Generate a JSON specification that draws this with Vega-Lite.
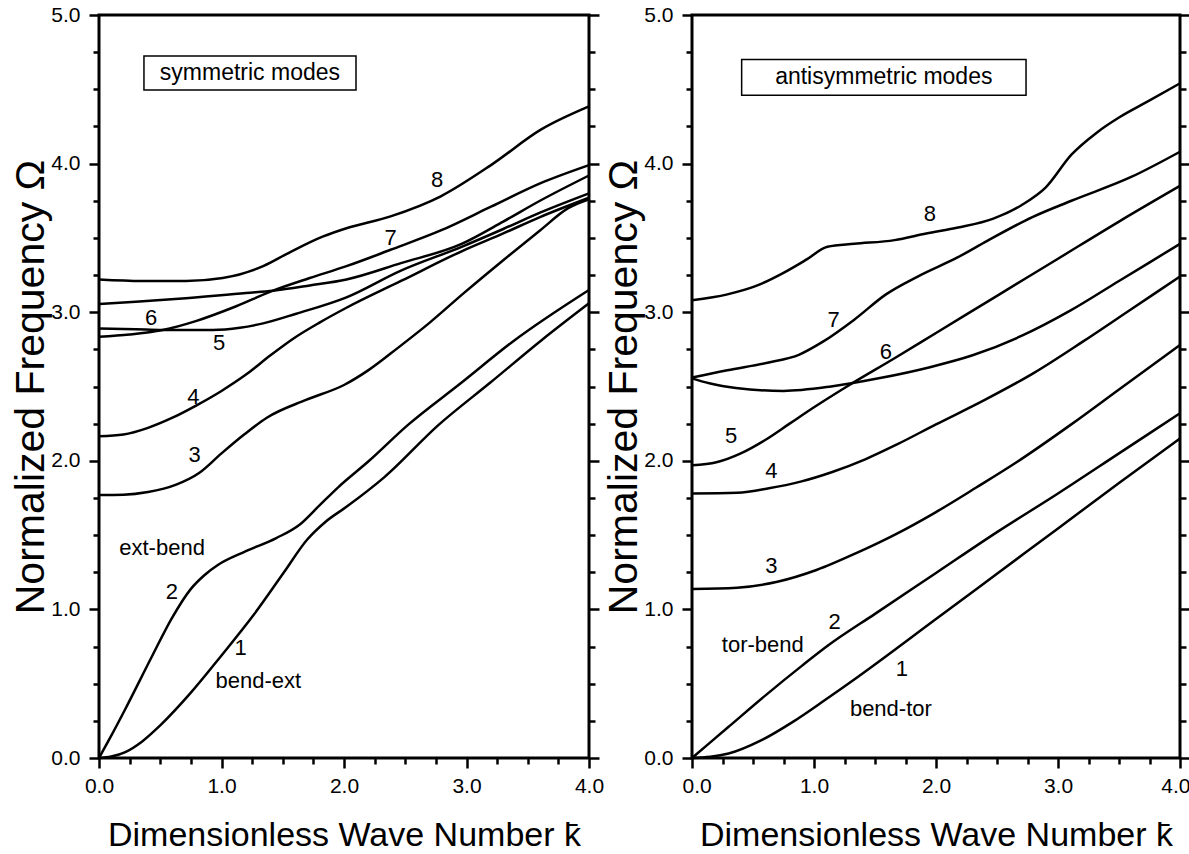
{
  "$schema": "https://vega.github.io/schema/vega-lite/v6.json",
  "padding": {"left": 9, "top": 2, "right": 0, "bottom": 0},
  "spacing": -4,
  "config": {
    "font": "Liberation Sans",
    "view": {"stroke": "black", "strokeWidth": 3},
    "axis": {"domain": false, "grid": false, "ticks": true, "tickColor": "black", "tickOpacity": 1, "tickWidth": 2.5, "labelColor": "black", "titleColor": "black", "labelFont": "Liberation Sans", "titleFont": "Liberation Sans", "titleFontWeight": "normal", "labelFontSize": 21, "labelFlush": false, "labelOverlap": false, "zindex": 1}
  },
  "datasets": {
    "sym": [
      {"c":"1","k":0,"w":0},{"c":"1","k":0.1,"w":0.01},{"c":"1","k":0.215,"w":0.04},{"c":"1","k":0.35,"w":0.11},{"c":"1","k":0.5,"w":0.22},{"c":"1","k":0.75,"w":0.44},{"c":"1","k":1.0,"w":0.69},{"c":"1","k":1.26,"w":0.96},{"c":"1","k":1.51,"w":1.25},{"c":"1","k":1.70,"w":1.47},{"c":"1","k":1.85,"w":1.59},{"c":"1","k":2.02,"w":1.69},{"c":"1","k":2.33,"w":1.89},{"c":"1","k":2.77,"w":2.24},{"c":"1","k":3.2,"w":2.53},{"c":"1","k":3.61,"w":2.81},{"c":"1","k":4.0,"w":3.06},
      {"c":"2","k":0,"w":0},{"c":"2","k":0.1,"w":0.15},{"c":"2","k":0.215,"w":0.33},{"c":"2","k":0.436,"w":0.69},{"c":"2","k":0.594,"w":0.94},{"c":"2","k":0.752,"w":1.14},{"c":"2","k":0.86,"w":1.23},{"c":"2","k":0.973,"w":1.30},{"c":"2","k":1.195,"w":1.39},{"c":"2","k":1.447,"w":1.48},{"c":"2","k":1.637,"w":1.57},{"c":"2","k":1.8,"w":1.70},{"c":"2","k":1.95,"w":1.82},{"c":"2","k":2.205,"w":2.0},{"c":"2","k":2.52,"w":2.24},{"c":"2","k":2.95,"w":2.52},{"c":"2","k":3.39,"w":2.81},{"c":"2","k":4.0,"w":3.15},
      {"c":"3","k":0,"w":1.77},{"c":"3","k":0.2,"w":1.772},{"c":"3","k":0.4,"w":1.79},{"c":"3","k":0.63,"w":1.84},{"c":"3","k":0.82,"w":1.92},{"c":"3","k":1.0,"w":2.05},{"c":"3","k":1.19,"w":2.18},{"c":"3","k":1.37,"w":2.29},{"c":"3","k":1.69,"w":2.41},{"c":"3","k":2.0,"w":2.51},{"c":"3","k":2.2,"w":2.61},{"c":"3","k":2.44,"w":2.76},{"c":"3","k":2.7,"w":2.93},{"c":"3","k":2.98,"w":3.13},{"c":"3","k":3.3,"w":3.35},{"c":"3","k":3.6,"w":3.55},{"c":"3","k":3.83,"w":3.70},{"c":"3","k":4.0,"w":3.76},
      {"c":"4","k":0,"w":2.165},{"c":"4","k":0.2,"w":2.177},{"c":"4","k":0.4,"w":2.222},{"c":"4","k":0.6,"w":2.29},{"c":"4","k":0.8,"w":2.375},{"c":"4","k":1.0,"w":2.47},{"c":"4","k":1.2,"w":2.58},{"c":"4","k":1.4,"w":2.71},{"c":"4","k":1.6,"w":2.83},{"c":"4","k":1.8,"w":2.93},{"c":"4","k":2.02,"w":3.03},{"c":"4","k":2.465,"w":3.21},{"c":"4","k":2.96,"w":3.41},{"c":"4","k":3.3,"w":3.53},{"c":"4","k":3.6,"w":3.64},{"c":"4","k":4.0,"w":3.77},
      {"c":"5","k":0,"w":2.89},{"c":"5","k":0.3,"w":2.885},{"c":"5","k":0.52,"w":2.88},{"c":"5","k":0.93,"w":2.88},{"c":"5","k":1.15,"w":2.895},{"c":"5","k":1.34,"w":2.925},{"c":"5","k":1.61,"w":2.99},{"c":"5","k":2.02,"w":3.10},{"c":"5","k":2.465,"w":3.28},{"c":"5","k":2.96,"w":3.44},{"c":"5","k":3.3,"w":3.56},{"c":"5","k":3.6,"w":3.67},{"c":"5","k":4.0,"w":3.80},
      {"c":"6","k":0,"w":2.835},{"c":"6","k":0.25,"w":2.85},{"c":"6","k":0.52,"w":2.88},{"c":"6","k":0.79,"w":2.94},{"c":"6","k":1.12,"w":3.04},{"c":"6","k":1.42,"w":3.145},{"c":"6","k":1.72,"w":3.23},{"c":"6","k":2.02,"w":3.31},{"c":"6","k":2.38,"w":3.42},{"c":"6","k":2.79,"w":3.55},{"c":"6","k":3.2,"w":3.71},{"c":"6","k":3.61,"w":3.87},{"c":"6","k":4.0,"w":3.99},
      {"c":"7","k":0,"w":3.055},{"c":"7","k":0.3,"w":3.07},{"c":"7","k":0.65,"w":3.09},{"c":"7","k":1.2,"w":3.13},{"c":"7","k":1.42,"w":3.145},{"c":"7","k":1.72,"w":3.18},{"c":"7","k":2.02,"w":3.22},{"c":"7","k":2.465,"w":3.33},{"c":"7","k":2.96,"w":3.46},{"c":"7","k":3.3,"w":3.61},{"c":"7","k":3.6,"w":3.75},{"c":"7","k":4.0,"w":3.92},
      {"c":"8","k":0,"w":3.22},{"c":"8","k":0.35,"w":3.21},{"c":"8","k":0.71,"w":3.21},{"c":"8","k":1.01,"w":3.23},{"c":"8","k":1.34,"w":3.31},{"c":"8","k":1.55,"w":3.40},{"c":"8","k":1.83,"w":3.51},{"c":"8","k":2.02,"w":3.565},{"c":"8","k":2.38,"w":3.645},{"c":"8","k":2.79,"w":3.78},{"c":"8","k":3.2,"w":3.99},{"c":"8","k":3.61,"w":4.23},{"c":"8","k":4.0,"w":4.385}
    ],
    "anti": [
      {"c":"1","k":0,"w":0},{"c":"1","k":0.15,"w":0.008},{"c":"1","k":0.3,"w":0.03},{"c":"1","k":0.57,"w":0.12},{"c":"1","k":0.83,"w":0.245},{"c":"1","k":1.09,"w":0.39},{"c":"1","k":1.35,"w":0.54},{"c":"1","k":2.0,"w":0.935},{"c":"1","k":2.5,"w":1.24},{"c":"1","k":3.0,"w":1.545},{"c":"1","k":3.5,"w":1.85},{"c":"1","k":4.0,"w":2.15},
      {"c":"2","k":0,"w":0},{"c":"2","k":0.3,"w":0.21},{"c":"2","k":0.6,"w":0.42},{"c":"2","k":0.9,"w":0.62},{"c":"2","k":1.12,"w":0.76},{"c":"2","k":1.5,"w":0.97},{"c":"2","k":2.0,"w":1.245},{"c":"2","k":2.5,"w":1.52},{"c":"2","k":3.0,"w":1.78},{"c":"2","k":3.5,"w":2.05},{"c":"2","k":4.0,"w":2.32},
      {"c":"3","k":0,"w":1.137},{"c":"3","k":0.37,"w":1.146},{"c":"3","k":0.70,"w":1.186},{"c":"3","k":1.02,"w":1.265},{"c":"3","k":1.35,"w":1.38},{"c":"3","k":1.68,"w":1.51},{"c":"3","k":2.0,"w":1.655},{"c":"3","k":2.33,"w":1.82},{"c":"3","k":2.66,"w":1.99},{"c":"3","k":3.1,"w":2.24},{"c":"3","k":3.5,"w":2.48},{"c":"3","k":4.0,"w":2.78},
      {"c":"4","k":0,"w":1.78},{"c":"4","k":0.37,"w":1.785},{"c":"4","k":0.63,"w":1.815},{"c":"4","k":0.89,"w":1.86},{"c":"4","k":1.15,"w":1.925},{"c":"4","k":1.42,"w":2.01},{"c":"4","k":1.68,"w":2.11},{"c":"4","k":2.0,"w":2.245},{"c":"4","k":2.4,"w":2.41},{"c":"4","k":2.8,"w":2.59},{"c":"4","k":3.2,"w":2.80},{"c":"4","k":3.6,"w":3.02},{"c":"4","k":4.0,"w":3.24},
      {"c":"5","k":0,"w":1.97},{"c":"5","k":0.2,"w":1.99},{"c":"5","k":0.4,"w":2.05},{"c":"5","k":0.6,"w":2.14},{"c":"5","k":0.8,"w":2.25},{"c":"5","k":1.0,"w":2.36},{"c":"5","k":1.27,"w":2.50},{"c":"5","k":1.66,"w":2.69},{"c":"5","k":2.0,"w":2.86},{"c":"5","k":2.5,"w":3.11},{"c":"5","k":3.0,"w":3.36},{"c":"5","k":3.5,"w":3.61},{"c":"5","k":4.0,"w":3.85},
      {"c":"6","k":0,"w":2.555},{"c":"6","k":0.15,"w":2.52},{"c":"6","k":0.36,"w":2.49},{"c":"6","k":0.75,"w":2.47},{"c":"6","k":1.14,"w":2.50},{"c":"6","k":1.53,"w":2.555},{"c":"6","k":1.95,"w":2.63},{"c":"6","k":2.3,"w":2.71},{"c":"6","k":2.7,"w":2.84},{"c":"6","k":3.1,"w":3.01},{"c":"6","k":3.5,"w":3.21},{"c":"6","k":4.0,"w":3.46},
      {"c":"7","k":0,"w":2.56},{"c":"7","k":0.29,"w":2.61},{"c":"7","k":0.62,"w":2.66},{"c":"7","k":0.88,"w":2.715},{"c":"7","k":1.07,"w":2.80},{"c":"7","k":1.33,"w":2.95},{"c":"7","k":1.59,"w":3.12},{"c":"7","k":1.85,"w":3.24},{"c":"7","k":2.18,"w":3.37},{"c":"7","k":2.42,"w":3.48},{"c":"7","k":2.79,"w":3.64},{"c":"7","k":3.11,"w":3.75},{"c":"7","k":3.6,"w":3.91},{"c":"7","k":4.0,"w":4.08},
      {"c":"8","k":0,"w":3.08},{"c":"8","k":0.29,"w":3.12},{"c":"8","k":0.52,"w":3.175},{"c":"8","k":0.75,"w":3.265},{"c":"8","k":0.94,"w":3.355},{"c":"8","k":1.11,"w":3.44},{"c":"8","k":1.33,"w":3.46},{"c":"8","k":1.66,"w":3.485},{"c":"8","k":1.92,"w":3.53},{"c":"8","k":2.18,"w":3.57},{"c":"8","k":2.47,"w":3.63},{"c":"8","k":2.7,"w":3.72},{"c":"8","k":2.9,"w":3.84},{"c":"8","k":3.11,"w":4.06},{"c":"8","k":3.32,"w":4.21},{"c":"8","k":3.5,"w":4.31},{"c":"8","k":3.74,"w":4.42},{"c":"8","k":4.0,"w":4.54}
    ],
    "symlab": [
      {"t":"8","k":2.76,"w":3.89},{"t":"7","k":2.38,"w":3.50},{"t":"6","k":0.425,"w":2.96},{"t":"5","k":0.98,"w":2.79},{"t":"4","k":0.77,"w":2.43},{"t":"3","k":0.78,"w":2.04},{"t":"ext-bend","k":0.515,"w":1.41},{"t":"2","k":0.594,"w":1.12},{"t":"1","k":1.156,"w":0.74},{"t":"bend-ext","k":1.30,"w":0.52}
    ],
    "antilab": [
      {"t":"8","k":1.95,"w":3.66},{"t":"7","k":1.16,"w":2.95},{"t":"6","k":1.59,"w":2.73},{"t":"5","k":0.32,"w":2.17},{"t":"4","k":0.65,"w":1.93},{"t":"3","k":0.65,"w":1.29},{"t":"2","k":1.17,"w":0.915},{"t":"tor-bend","k":0.58,"w":0.76},{"t":"1","k":1.72,"w":0.60},{"t":"bend-tor","k":1.63,"w":0.33}
    ],
    "symbox": [{"t":"symmetric modes","x1":0.367,"x2":2.098,"y1":4.495,"y2":4.724,"tx":1.232,"ty":4.61}],
    "antibox": [{"t":"antisymmetric modes","x1":0.407,"x2":2.738,"y1":4.46,"y2":4.70,"tx":1.572,"ty":4.58}]
  },
  "hconcat": [
    {
      "width": 490, "height": 743,
      "layer": [
        {
          "data": {"name": "sym"},
          "mark": {"type": "line", "color": "black", "strokeWidth": 2.5, "interpolate": "monotone"},
          "encoding": {
            "x": {"field": "k", "type": "quantitative", "scale": {"domain": [0, 4], "nice": false, "zero": false},
                  "axis": {"orient": "bottom", "values": [0, 1, 2, 3, 4], "format": ".1f", "ticks": true, "tickSize": 10, "labelPadding": 7, "title": "Dimensionless Wave Number k\u0304", "titleFontSize": 34, "titlePadding": 22}},
            "y": {"field": "w", "type": "quantitative", "scale": {"domain": [0, 5], "nice": false, "zero": false},
                  "axis": {"orient": "left", "values": [0, 1, 2, 3, 4, 5], "format": ".1f", "ticks": true, "tickSize": 10, "labelPadding": 9, "title": "Normalized Frequency \u03a9", "titleFontSize": 41, "titlePadding": -2}},
            "detail": {"field": "c"}
          }
        },
        {
          "data": {"name": "symlab"},
          "mark": {"type": "text", "fontSize": 22, "color": "black", "align": "center", "baseline": "middle"},
          "encoding": {
            "x": {"field": "k", "type": "quantitative", "axis": {"orient": "bottom", "values": [0.25,0.5,0.75,1.25,1.5,1.75,2.25,2.5,2.75,3.25,3.5,3.75], "labels": false, "ticks": true, "tickSize": 6, "title": null}},
            "y": {"field": "w", "type": "quantitative", "axis": {"orient": "left", "values": [0.25,0.5,0.75,1.25,1.5,1.75,2.25,2.5,2.75,3.25,3.5,3.75,4.25,4.5,4.75], "labels": false, "ticks": true, "tickSize": 6, "title": null}},
            "text": {"field": "t"}
          }
        },
        {
          "data": {"name": "symbox"},
          "mark": {"type": "rect", "fill": "white", "stroke": "black", "strokeWidth": 1.5},
          "encoding": {
            "x": {"field": "x1", "type": "quantitative", "axis": null},
            "x2": {"field": "x2"},
            "y": {"field": "y1", "type": "quantitative", "axis": {"orient": "right", "values": [0, 1, 2, 3, 4, 5], "labels": false, "ticks": true, "tickSize": 10, "title": null}},
            "y2": {"field": "y2"}
          }
        },
        {
          "data": {"name": "symbox"},
          "mark": {"type": "text", "fontSize": 23, "color": "black", "align": "center", "baseline": "middle"},
          "encoding": {
            "x": {"field": "tx", "type": "quantitative", "axis": null},
            "y": {"field": "ty", "type": "quantitative", "axis": {"orient": "right", "values": [0.25,0.5,0.75,1.25,1.5,1.75,2.25,2.5,2.75,3.25,3.5,3.75,4.25,4.5,4.75], "labels": false, "ticks": true, "tickSize": 6, "title": null}},
            "text": {"field": "t"}
          }
        }
      ],
      "resolve": {"axis": {"x": "independent", "y": "independent"}}
    },
    {
      "width": 488, "height": 743,
      "layer": [
        {
          "data": {"name": "anti"},
          "mark": {"type": "line", "color": "black", "strokeWidth": 2.5, "interpolate": "monotone"},
          "encoding": {
            "x": {"field": "k", "type": "quantitative", "scale": {"domain": [0, 4], "nice": false, "zero": false},
                  "axis": {"orient": "bottom", "values": [0, 1, 2, 3, 4], "format": ".1f", "ticks": true, "tickSize": 10, "labelPadding": 7, "labelFlush": true, "labelFlushOffset": 10, "title": "Dimensionless Wave Number k\u0304", "titleFontSize": 34, "titlePadding": 22}},
            "y": {"field": "w", "type": "quantitative", "scale": {"domain": [0, 5], "nice": false, "zero": false},
                  "axis": {"orient": "left", "values": [0, 1, 2, 3, 4, 5], "format": ".1f", "ticks": true, "tickSize": 10, "labelPadding": 9, "title": "Normalized Frequency \u03a9", "titleFontSize": 41, "titlePadding": -2}},
            "detail": {"field": "c"}
          }
        },
        {
          "data": {"name": "antilab"},
          "mark": {"type": "text", "fontSize": 22, "color": "black", "align": "center", "baseline": "middle"},
          "encoding": {
            "x": {"field": "k", "type": "quantitative", "axis": {"orient": "bottom", "values": [0.25,0.5,0.75,1.25,1.5,1.75,2.25,2.5,2.75,3.25,3.5,3.75], "labels": false, "ticks": true, "tickSize": 6, "title": null}},
            "y": {"field": "w", "type": "quantitative", "axis": {"orient": "left", "values": [0.25,0.5,0.75,1.25,1.5,1.75,2.25,2.5,2.75,3.25,3.5,3.75,4.25,4.5,4.75], "labels": false, "ticks": true, "tickSize": 6, "title": null}},
            "text": {"field": "t"}
          }
        },
        {
          "data": {"name": "antibox"},
          "mark": {"type": "rect", "fill": "white", "stroke": "black", "strokeWidth": 1.5},
          "encoding": {
            "x": {"field": "x1", "type": "quantitative", "axis": null},
            "x2": {"field": "x2"},
            "y": {"field": "y1", "type": "quantitative", "axis": {"orient": "right", "values": [0, 1, 2, 3, 4, 5], "labels": false, "ticks": true, "tickSize": 10, "title": null}},
            "y2": {"field": "y2"}
          }
        },
        {
          "data": {"name": "antibox"},
          "mark": {"type": "text", "fontSize": 23, "color": "black", "align": "center", "baseline": "middle"},
          "encoding": {
            "x": {"field": "tx", "type": "quantitative", "axis": null},
            "y": {"field": "ty", "type": "quantitative", "axis": {"orient": "right", "values": [0.25,0.5,0.75,1.25,1.5,1.75,2.25,2.5,2.75,3.25,3.5,3.75,4.25,4.5,4.75], "labels": false, "ticks": true, "tickSize": 6, "title": null}},
            "text": {"field": "t"}
          }
        }
      ],
      "resolve": {"axis": {"x": "independent", "y": "independent"}}
    }
  ]
}
